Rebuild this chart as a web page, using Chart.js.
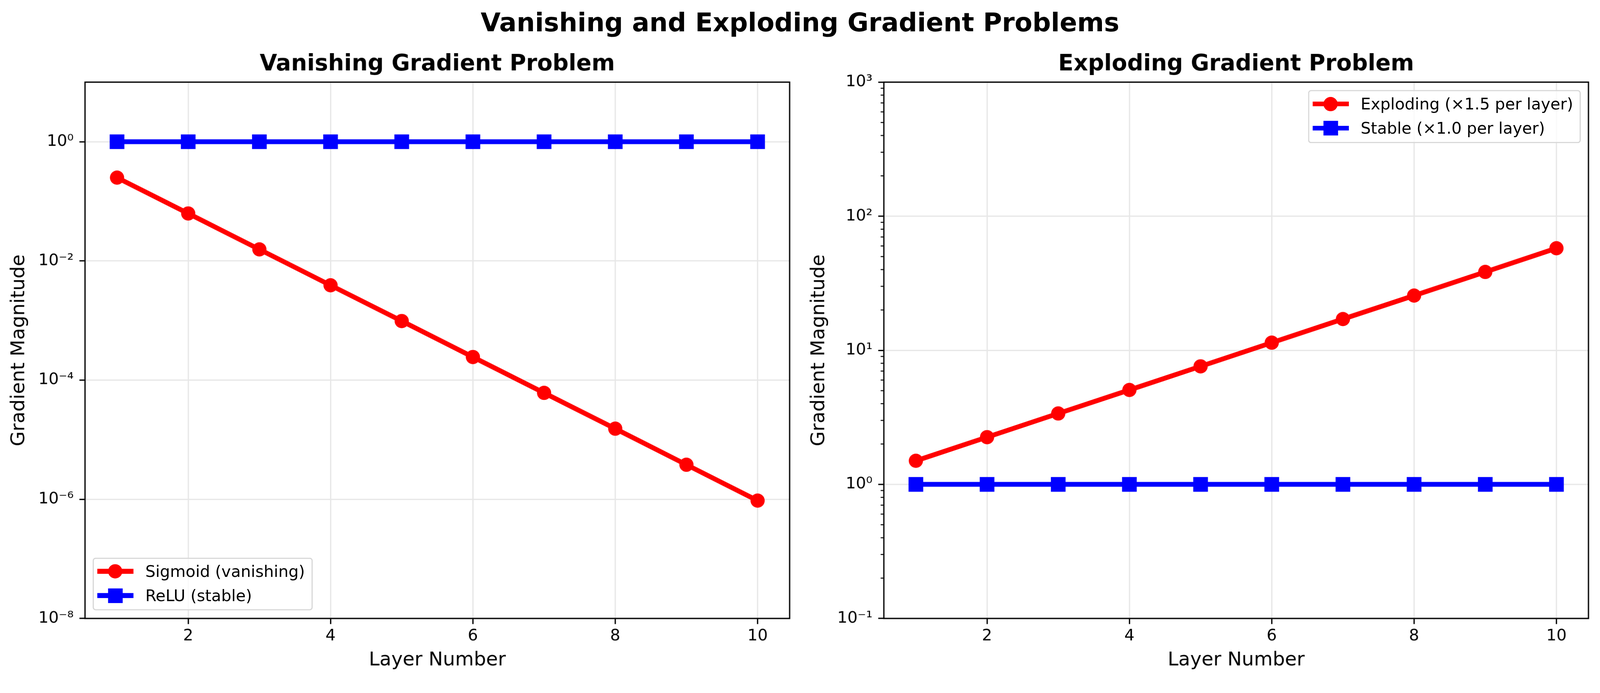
<!DOCTYPE html>
<html>
<head>
<meta charset="utf-8">
<title>Vanishing and Exploding Gradient Problems</title>
<script src="https://cdn.jsdelivr.net/npm/chart.js@4.4.1/dist/chart.umd.min.js"></script>
<style>
    html, body { margin: 0; padding: 0; background: #fff; overflow: hidden; }
    body { font-family: 'DejaVu Sans', sans-serif; color: #000; }
    #stage { position: absolute; left: 0; top: 0; width: 4160px; height: 1773px; transform-origin: 0 0; }
    #suptitle { position: absolute; left: 0; top: 25px; width: 4160px; text-align: center; font-size: 67px; line-height: 67px; font-weight: bold; z-index: 3; }
    .panel { position: absolute; top: 0; width: 2080px; height: 1773px; }
    .panel canvas { display: block; }
    #panel-left { left: 0; }
    #panel-right { left: 2080px; }
    .legend { position: absolute; z-index: 2; border: 3.3px solid #d6d6d6; border-radius: 8px; background: rgba(255, 255, 255, 0.8);
              padding: 7.7px 17px 10.7px 8.7px; font-size: 41.67px; white-space: nowrap; }
    .legend-item { display: flex; align-items: center; height: 50px; line-height: 50px; }
    .legend-item + .legend-item { margin-top: 13px; }
    .handle { position: relative; width: 94px; height: 50px; margin-right: 31px; flex: none; }
    .handle .ln { position: absolute; left: 0; right: 0; top: 50%; height: 12.5px; margin-top: -6.25px; }
    .handle .mk { position: absolute; left: 50%; top: 50%; }
    .handle .mk.circle { width: 37px; height: 37px; margin: -18.5px 0 0 -18.5px; border-radius: 50%; }
    .handle .mk.rect { width: 38px; height: 38px; margin: -19px 0 0 -19px; }
</style>
</head>
<body>
<div id="stage">
    <div id="suptitle">Vanishing and Exploding Gradient Problems</div>
    <div class="panel" id="panel-left"><canvas id="chart-left" width="2080" height="1773"></canvas></div>
    <div class="panel" id="panel-right"><canvas id="chart-right" width="2080" height="1773"></canvas></div>
</div>
<script>
// --- Data ---
const layers = [1, 2, 3, 4, 5, 6, 7, 8, 9, 10];
const sigmoidGrad = [0.25, 0.0625, 0.0156, 0.0039, 0.00098, 0.000244, 0.000061, 0.0000153, 0.0000038, 0.00000095];
const reluGrad = [1, 1, 1, 1, 1, 1, 1, 1, 1, 1];
const explodingGrad = [1.5, 2.25, 3.38, 5.06, 7.59, 11.4, 17.1, 25.6, 38.4, 57.7];
const stableGrad = [1, 1, 1, 1, 1, 1, 1, 1, 1, 1];

// --- Axis ticks and labels ---
const xTicks = [2, 4, 6, 8, 10];
const xTickLabels = ['2', '4', '6', '8', '10'];
const leftYTicks = [1e-8, 1e-6, 1e-4, 1e-2, 1];
const leftYLabels = ['10⁻⁸', '10⁻⁶', '10⁻⁴', '10⁻²', '10⁰'];
const rightYTicks = [0.1, 1, 10, 100, 1000];
const rightYLabels = ['10⁻¹', '10⁰', '10¹', '10²', '10³'];
const rightYMinorTicks = [0.2, 0.3, 0.4, 0.5, 0.6, 0.7, 0.8, 0.9,
                          2, 3, 4, 5, 6, 7, 8, 9,
                          20, 30, 40, 50, 60, 70, 80, 90,
                          200, 300, 400, 500, 600, 700, 800, 900];

const PT = 300 / 72; // points -> pixels at 300 dpi
const GRID = '#e7e7e7';

// Fit the 4160x1773 design into whatever viewport we actually get
const stage = document.getElementById('stage');
const fitScale = Math.min(window.innerWidth / 4160, window.innerHeight / 1773);
stage.style.transform = `scale(${fitScale})`;

Chart.defaults.font.family = "'DejaVu Sans', sans-serif";
Chart.defaults.color = '#000';

/**
 * Draws the four spines and (optionally) short minor ticks on the y axis.
 */
function axesFrame(minorTicks) {
    return {
        id: 'axesFrame',
        afterDraw(chart) {
            const { ctx, chartArea: a } = chart;
            const y = chart.scales.y;
            ctx.save();
            ctx.strokeStyle = '#000';
            ctx.lineWidth = 0.6 * PT;
            minorTicks.forEach(v => {
                const py = y.getPixelForValue(v);
                ctx.beginPath();
                ctx.moveTo(a.left - 2 * PT, py);
                ctx.lineTo(a.left, py);
                ctx.stroke();
            });
            ctx.lineWidth = 0.8 * PT;
            ctx.strokeRect(a.left, a.top, a.right - a.left, a.bottom - a.top);
            ctx.restore();
        }
    };
}

function makeChart(canvasId, cfg) {
    const datasets = cfg.series.map(s => ({
        label: s.label,
        data: layers.map((x, i) => ({ x: x, y: s.values[i] })),
        borderColor: s.color,
        backgroundColor: s.color,
        borderWidth: 3 * PT,
        borderJoinStyle: 'round',
        borderCapStyle: 'square',
        pointStyle: s.marker,
        pointRadius: s.marker === 'rect' ? 27 : 18.5,
        pointBorderWidth: 0,
        tension: 0,
        fill: false
    }));

    return new Chart(document.getElementById(canvasId), {
        type: 'line',
        data: { datasets: datasets },
        options: {
            responsive: false,
            devicePixelRatio: 1,
            animation: false,
            events: [],
            layout: { padding: { left: 0, right: cfg.padRight, top: 0, bottom: 0 } },
            plugins: {
                legend: { display: false },
                tooltip: { enabled: false },
                title: {
                    display: true,
                    text: cfg.title,
                    fullSize: false,
                    color: '#000',
                    font: { size: 14 * PT, weight: 'bold' },
                    padding: { top: 133.2, bottom: 10.2 }
                }
            },
            scales: {
                x: {
                    type: 'linear',
                    min: 0.55,
                    max: 10.45,
                    afterBuildTicks: s => { s.ticks = xTicks.map(v => ({ value: v })); },
                    afterFit: s => { s.height = 166; },
                    ticks: {
                        autoSkip: false,
                        maxRotation: 0,
                        padding: 7,
                        color: '#000',
                        font: { size: 10 * PT },
                        callback: (v, i) => xTickLabels[i]
                    },
                    grid: { color: GRID, lineWidth: 0.8 * PT, tickColor: '#000', tickWidth: 0.8 * PT, tickLength: 3.5 * PT },
                    border: { display: false },
                    title: { display: true, text: 'Layer Number', color: '#000', font: { size: 12 * PT }, padding: { top: 0, bottom: 27 } }
                },
                y: {
                    type: 'logarithmic',
                    min: cfg.yMin,
                    max: cfg.yMax,
                    afterBuildTicks: s => { s.ticks = cfg.yTicks.map(v => ({ value: v })); },
                    afterFit: s => { s.width = cfg.yAxisWidth; },
                    ticks: {
                        autoSkip: false,
                        padding: 15,
                        color: '#000',
                        font: { size: 10 * PT },
                        callback: (v, i) => cfg.yLabels[i]
                    },
                    grid: { color: GRID, lineWidth: 0.8 * PT, tickColor: '#000', tickWidth: 0.8 * PT, tickLength: 3.5 * PT },
                    border: { display: false },
                    title: { display: true, text: 'Gradient Magnitude', color: '#000', font: { size: 12 * PT }, padding: { top: 20, bottom: 0 } }
                }
            }
        },
        plugins: [axesFrame(cfg.minorTicks || [])]
    });
}

/**
 * Matplotlib-style legend box placed inside the plot area.
 */
function buildLegend(chart, panelId, place) {
    const panel = document.getElementById(panelId);
    const box = document.createElement('div');
    box.className = 'legend';
    chart.data.datasets.forEach(ds => {
        const item = document.createElement('div');
        item.className = 'legend-item';
        const handle = document.createElement('span');
        handle.className = 'handle';
        const ln = document.createElement('span');
        ln.className = 'ln';
        ln.style.background = ds.borderColor;
        const mk = document.createElement('span');
        mk.className = 'mk ' + ds.pointStyle;
        mk.style.background = ds.borderColor;
        handle.appendChild(ln);
        handle.appendChild(mk);
        const txt = document.createElement('span');
        txt.textContent = ds.label;
        item.appendChild(handle);
        item.appendChild(txt);
        box.appendChild(item);
    });
    panel.appendChild(box);

    const a = chart.chartArea;
    if (place === 'lower left') {
        box.style.left = (a.left + 20) + 'px';
        box.style.top = (a.bottom - 21 - box.offsetHeight) + 'px';
    } else {
        box.style.left = (a.right - 20 - box.offsetWidth) + 'px';
        box.style.top = (a.top + 21) + 'px';
    }
}

const leftChart = makeChart('chart-left', {
    title: 'Vanishing Gradient Problem',
    yMin: 1e-8, yMax: 10,
    yTicks: leftYTicks, yLabels: leftYLabels,
    yAxisWidth: 221, padRight: 27,
    series: [
        { label: 'Sigmoid (vanishing)', values: sigmoidGrad, color: '#ff0000', marker: 'circle' },
        { label: 'ReLU (stable)', values: reluGrad, color: '#0000ff', marker: 'rect' }
    ]
});

const rightChart = makeChart('chart-right', {
    title: 'Exploding Gradient Problem',
    yMin: 0.1, yMax: 1000,
    yTicks: rightYTicks, yLabels: rightYLabels,
    minorTicks: rightYMinorTicks,
    yAxisWidth: 218, padRight: 30,
    series: [
        { label: 'Exploding (×1.5 per layer)', values: explodingGrad, color: '#ff0000', marker: 'circle' },
        { label: 'Stable (×1.0 per layer)', values: stableGrad, color: '#0000ff', marker: 'rect' }
    ]
});

buildLegend(leftChart, 'panel-left', 'lower left');
buildLegend(rightChart, 'panel-right', 'upper right');
</script>
</body>
</html>
